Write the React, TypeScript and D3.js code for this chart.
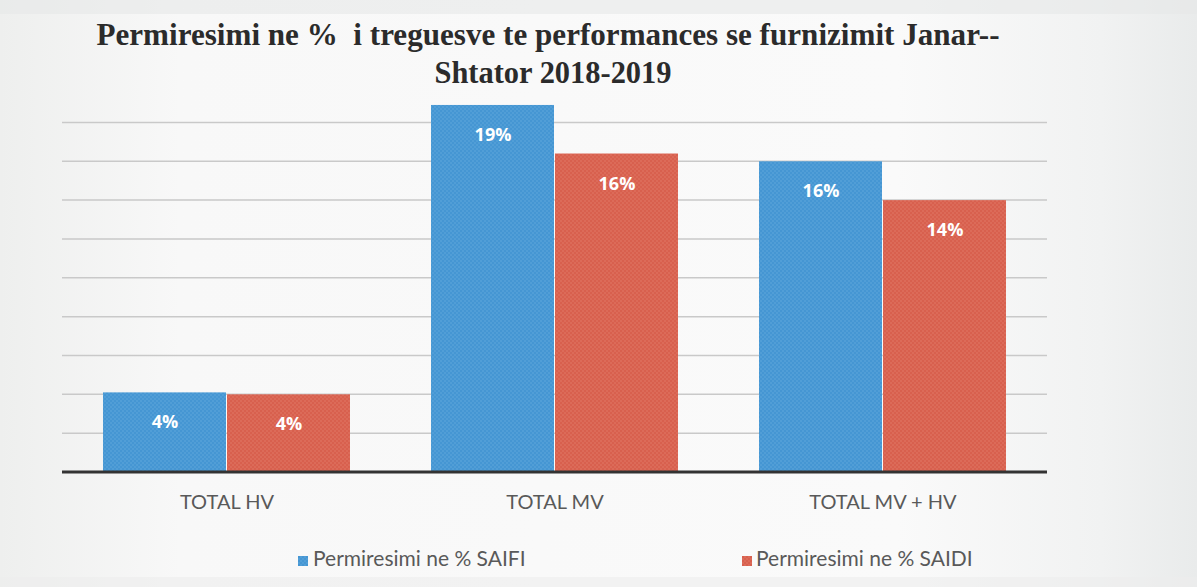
import React from "react";
import * as d3 from "d3";

const categories = ["TOTAL HV", "TOTAL MV", "TOTAL MV + HV"];
const seriesNames = ["Permiresimi ne % SAIFI", "Permiresimi ne % SAIDI"];
const saifi = [4.1, 18.9, 16.0];
const saidi = [4.0, 16.4, 14.0];
const gridTicks = [2, 4, 6, 8, 10, 12, 14, 16, 18];
const titleLines = [
  "Permiresimi ne %  i treguesve te performances se furnizimit Janar--",
  "Shtator 2018-2019",
];

const W = 1197;
const H = 587;
const colors = ["#4596d3", "#d8604e"];
const dotColors = ["#7ab6e4", "#e9917f"];

export default function App() {
  React.useEffect(() => {
    document.body.style.margin = "0";
    document.body.style.overflow = "hidden";
  }, []);

  const plotLeft = 63;
  const plotRight = 1047;
  const baseY = 472;
  const x = d3
    .scaleBand<string>()
    .domain(categories)
    .range([plotLeft, plotRight])
    .paddingInner(0.244)
    .paddingOuter(0.122);
  const inner = d3.scaleBand<number>().domain([0, 1]).range([0, x.bandwidth()]).padding(0);
  const y = d3.scaleLinear().domain([0, 20]).range([baseY, baseY - 20 * 19.42]);
  const series = [saifi, saidi];

  const titlePos = [
    { x: 548, y: 45, len: 903 },
    { x: 553, y: 83, len: 237 },
  ];
  const legendPos = [
    { sq: 298, tx: 313 },
    { sq: 742, tx: 756 },
  ];

  return (
    <svg width={W} height={H} style={{ position: "absolute", left: 0, top: 0, display: "block" }}>
      <defs>
        <linearGradient id="bg" x1="0" x2="1" y1="0" y2="0">
          <stop offset="0" stopColor="#eeefee" />
          <stop offset="0.15" stopColor="#f8f8f8" />
          <stop offset="0.75" stopColor="#fafafa" />
          <stop offset="0.92" stopColor="#f1f2f2" />
          <stop offset="1" stopColor="#e9ebeb" />
        </linearGradient>
        {colors.map((c, i) => (
          <pattern key={i} id={`pat${i}`} width="4" height="4" patternUnits="userSpaceOnUse">
            <rect width="4" height="4" fill={c} />
            <circle cx="1" cy="1" r="0.7" fill={dotColors[i]} opacity="0.6" />
            <circle cx="3" cy="3" r="0.7" fill={dotColors[i]} opacity="0.6" />
          </pattern>
        ))}
      </defs>
      <rect x={0} y={0} width={W} height={H} fill="url(#bg)" />
      <rect x={0} y={0} width={W} height={14} fill="#e6e7e7" opacity={0.6} />
      <rect x={0} y={H - 10} width={W} height={10} fill="#eceded" opacity={0.6} />

      {titleLines.map((t, i) => (
        <text
          key={i}
          x={titlePos[i].x}
          y={titlePos[i].y}
          textAnchor="middle"
          fontFamily="'Liberation Serif', 'Times New Roman', serif"
          fontWeight="bold"
          fontSize={32}
          fill="#2b2b2b"
          textLength={titlePos[i].len}
          lengthAdjust="spacingAndGlyphs"
          style={{ whiteSpace: "pre" }}
        >
          {t}
        </text>
      ))}

      {gridTicks.map((t) => (
        <line key={t} x1={plotLeft - 1} x2={plotRight} y1={y(t)} y2={y(t)} stroke="#c9c9c9" strokeWidth={1.5} />
      ))}

      {categories.map((c, ci) =>
        series.map((s, si) => {
          const bx = (x(c) as number) + (inner(si) as number);
          const bw = inner.bandwidth();
          const top = y(s[ci]);
          return (
            <g key={`${ci}-${si}`}>
              <rect x={bx} y={top} width={bw - 1} height={baseY - top} fill={`url(#pat${si})`} />
              <text
                x={bx + bw / 2}
                y={top + 36}
                textAnchor="middle"
                fontFamily="'Open Sans', 'DejaVu Sans', sans-serif"
                fontWeight="bold"
                fontSize={18}
                fill="#ffffff"
              >
                {`${Math.round(s[ci])}%`}
              </text>
            </g>
          );
        })
      )}

      <line x1={plotLeft - 1} x2={plotRight} y1={baseY} y2={baseY} stroke="#333333" strokeWidth={3} />

      {categories.map((c) => (
        <text
          key={c}
          x={(x(c) as number) + x.bandwidth() / 2}
          y={509}
          textAnchor="middle"
          fontFamily="Lato, 'Open Sans', sans-serif"
          fontSize={20}
          fill="#595959"
        >
          {c}
        </text>
      ))}

      {seriesNames.map((n, i) => (
        <g key={n}>
          <rect x={legendPos[i].sq} y={556} width={10} height={10} fill={`url(#pat${i})`} />
          <text
            x={legendPos[i].tx}
            y={566}
            fontFamily="Lato, 'Open Sans', sans-serif"
            fontSize={21}
            fill="#595959"
          >
            {n}
          </text>
        </g>
      ))}
    </svg>
  );
}
